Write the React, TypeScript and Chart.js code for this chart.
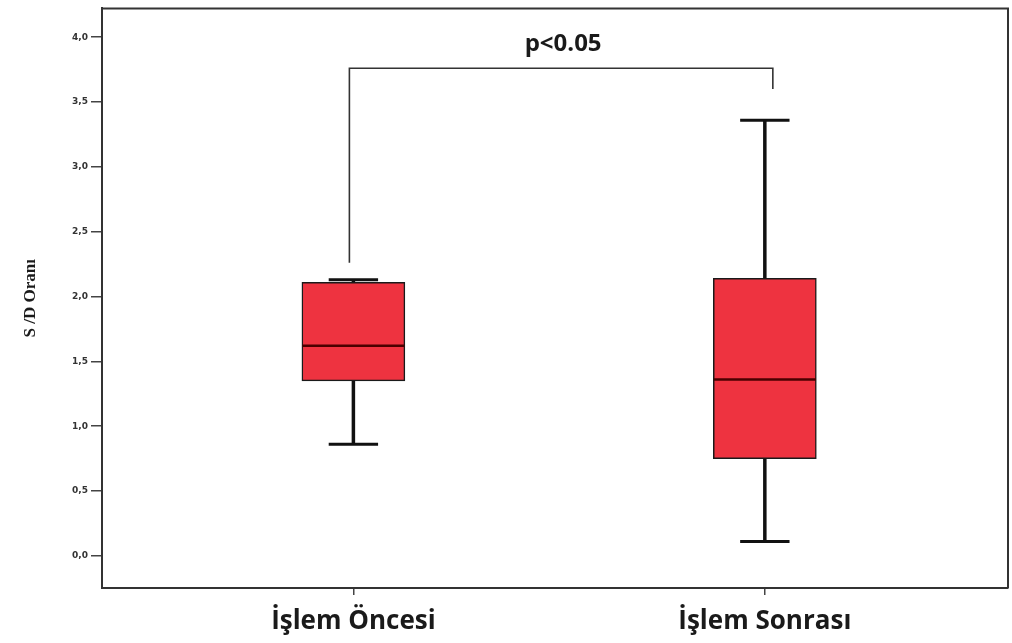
import React, { useEffect, useRef } from "react";
import { Chart, registerables } from "chart.js";

Chart.register(...registerables);

const categories = ["İşlem Öncesi", "İşlem Sonrası"];
const whiskerLow = [0.86, 0.11];
const q1 = [1.35, 0.75];
const median = [1.62, 1.36];
const q3 = [2.11, 2.14];
const whiskerHigh = [2.13, 3.36];
const bracketLegEnds = [2.26, 3.6];
const bracketTop = 3.76;
const pLabel = "p<0.05";
const yTicks = [0, 0.5, 1, 1.5, 2, 2.5, 3, 3.5, 4];
const yTitle = "S /D Oranı";

const boxPlugin = {
  id: "boxParts",
  beforeDatasetsDraw(chart: any) {
    const { ctx, scales } = chart;
    const x = scales.x, y = scales.y;
    ctx.save();
    ctx.strokeStyle = "#111";
    ctx.lineCap = "butt";
    categories.forEach((_, i) => {
      const cx = x.getPixelForValue(i + 1);
      const capHalf = Math.abs(x.getPixelForValue(i + 1 + 0.06) - cx);
      ctx.lineWidth = 3.5;
      ctx.beginPath();
      ctx.moveTo(cx, y.getPixelForValue(whiskerLow[i]));
      ctx.lineTo(cx, y.getPixelForValue(q1[i]));
      ctx.moveTo(cx, y.getPixelForValue(q3[i]));
      ctx.lineTo(cx, y.getPixelForValue(whiskerHigh[i]));
      ctx.stroke();
      ctx.lineWidth = 3;
      ctx.beginPath();
      ctx.moveTo(cx - capHalf, y.getPixelForValue(whiskerLow[i]));
      ctx.lineTo(cx + capHalf, y.getPixelForValue(whiskerLow[i]));
      ctx.moveTo(cx - capHalf, y.getPixelForValue(whiskerHigh[i]));
      ctx.lineTo(cx + capHalf, y.getPixelForValue(whiskerHigh[i]));
      ctx.stroke();
    });
    ctx.restore();
  },
  afterDatasetsDraw(chart: any) {
    const { ctx, scales, chartArea } = chart;
    const x = scales.x, y = scales.y;
    ctx.save();
    ctx.strokeStyle = "#4a0000";
    ctx.lineWidth = 2.5;
    categories.forEach((_, i) => {
      const cx = x.getPixelForValue(i + 1);
      const half = Math.abs(x.getPixelForValue(i + 1 + 0.124) - cx);
      const my = y.getPixelForValue(median[i]);
      ctx.beginPath();
      ctx.moveTo(cx - half, my);
      ctx.lineTo(cx + half, my);
      ctx.stroke();
    });
    ctx.strokeStyle = "#333";
    ctx.lineWidth = 1.6;
    const xl = x.getPixelForValue(1) - 4;
    const xr = x.getPixelForValue(2) + 8;
    const yt = y.getPixelForValue(bracketTop);
    ctx.beginPath();
    ctx.moveTo(xl, y.getPixelForValue(bracketLegEnds[0]));
    ctx.lineTo(xl, yt);
    ctx.lineTo(xr, yt);
    ctx.lineTo(xr, y.getPixelForValue(bracketLegEnds[1]));
    ctx.stroke();
    ctx.fillStyle = "#1a1a1a";
    ctx.font = "bold 24px 'Open Sans', sans-serif";
    ctx.textAlign = "center";
    ctx.textBaseline = "alphabetic";
    ctx.fillText(pLabel, (xl + xr) / 2 + 2, yt - 17);
    ctx.strokeStyle = "#333";
    ctx.lineWidth = 2;
    ctx.beginPath();
    ctx.moveTo(chartArea.left, chartArea.top);
    ctx.lineTo(chartArea.right, chartArea.top);
    ctx.lineTo(chartArea.right, chartArea.bottom);
    ctx.stroke();
    ctx.restore();
  },
};

export default function App() {
  const ref = useRef<HTMLCanvasElement>(null);
  useEffect(() => {
    if (!ref.current) return;
    const chart = new Chart(ref.current, {
      type: "bar",
      data: {
        datasets: [
          {
            data: categories.map((_, i) => ({ x: i + 1, y: [q1[i], q3[i]] })) as any,
            backgroundColor: "#ee3340",
            borderColor: "#1a1a1a",
            borderWidth: 1.5,
            borderSkipped: false,
            barThickness: 103,
          } as any,
        ],
      },
      options: {
        animation: false,
        responsive: false,
        maintainAspectRatio: false,
        layout: { padding: { left: 0, top: 7, right: 4, bottom: 0 } },
        plugins: { legend: { display: false }, tooltip: { enabled: false } },
        scales: {
          x: {
            type: "linear",
            offset: false,
            min: 0.389,
            max: 2.591,
            afterBuildTicks: (s: any) => {
              s.ticks = categories.map((_, i) => ({ value: i + 1 }));
            },
            afterFit: (s: any) => {
              s.height = 55;
            },
            ticks: {
              callback: (v: any) => categories[Number(v) - 1] ?? "",
              color: "#1a1a1a",
              font: { family: "'Open Sans', sans-serif", size: 26, weight: "bold" },
              padding: 11,
              maxRotation: 0,
              autoSkip: false,
            },
            grid: { display: true, offset: false, drawOnChartArea: false, drawTicks: true, tickLength: 7, color: "#444", lineWidth: 1.5 },
            border: { display: true, color: "#333", width: 2 },
          },
          y: {
            type: "linear",
            min: -0.248,
            max: 4.222,
            afterBuildTicks: (s: any) => {
              s.ticks = yTicks.map((v) => ({ value: v }));
            },
            afterFit: (s: any) => {
              s.width = 102;
            },
            ticks: {
              callback: (v: any) => Number(v).toFixed(1).replace(".", ","),
              color: "#333",
              font: { family: "'DejaVu Sans', sans-serif", size: 9, weight: "bold" },
              padding: 3,
            },
            title: {
              display: true,
              text: yTitle,
              color: "#1a1a1a",
              font: { family: "'Liberation Serif', serif", size: 17, weight: "bold" },
              padding: { top: 20, bottom: 0 },
            },
            grid: { display: true, drawOnChartArea: false, drawTicks: true, tickLength: 11, color: "#444", lineWidth: 1.5 },
            border: { display: true, color: "#333", width: 2 },
          },
        },
      },
      plugins: [boxPlugin],
    });
    return () => chart.destroy();
  }, []);
  return (
    <div style={{ position: "fixed", left: 0, top: 0, width: 1012, height: 643, background: "#fff" }}>
      <canvas ref={ref} width={1012} height={643} style={{ display: "block", width: 1012, height: 643 }} />
    </div>
  );
}
